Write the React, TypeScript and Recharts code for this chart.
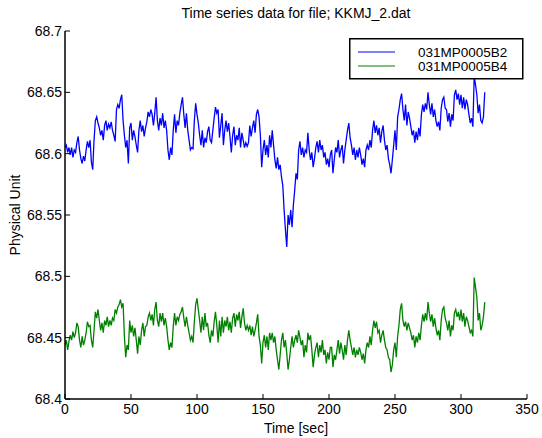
import React from 'react';
import { LineChart, Line, XAxis, YAxis, Legend } from 'recharts';

const FONT = '"Liberation Sans", Arial, Helvetica, sans-serif';
const TITLE = 'Time series data for file; KKMJ_2.dat';
const X_LABEL = 'Time [sec]';
const Y_LABEL = 'Physical Unit';
const SAMPLE_STEP_SEC = 1;
const X_TICKS = [0, 50, 100, 150, 200, 250, 300, 350];
const Y_TICKS = [68.4, 68.45, 68.5, 68.55, 68.6, 68.65, 68.7];
const SERIES_NAMES = ['031MP0005B2', '031MP0005B4'];
const SERIES_COLORS = ['#0000ff', '#008000'];

const B2 = [
  68.605, 68.607, 68.601, 68.605, 68.599, 68.605, 68.597, 68.603, 68.601, 68.609,
  68.614, 68.603, 68.596, 68.592, 68.598, 68.594, 68.603, 68.610, 68.605, 68.611,
  68.593, 68.587, 68.611, 68.627, 68.630, 68.625, 68.621, 68.615, 68.619, 68.611,
  68.623, 68.627, 68.619, 68.624, 68.621, 68.626, 68.619, 68.615, 68.610, 68.636,
  68.640, 68.637, 68.644, 68.648, 68.627, 68.615, 68.605, 68.611, 68.592, 68.621,
  68.625, 68.611, 68.619, 68.614, 68.607, 68.601, 68.619, 68.627, 68.618, 68.623,
  68.614, 68.621, 68.626, 68.634, 68.630, 68.636, 68.632, 68.623, 68.633, 68.646,
  68.627, 68.619, 68.629, 68.623, 68.633, 68.621, 68.627, 68.619, 68.603, 68.595,
  68.605, 68.599, 68.619, 68.632, 68.617, 68.627, 68.623, 68.633, 68.640, 68.646,
  68.632, 68.621, 68.633, 68.619, 68.611, 68.603, 68.605, 68.604, 68.627, 68.641,
  68.632, 68.625, 68.615, 68.607, 68.619, 68.605, 68.613, 68.609, 68.618, 68.622,
  68.611, 68.609, 68.619, 68.629, 68.638, 68.633, 68.636, 68.613, 68.623, 68.633,
  68.607, 68.619, 68.627, 68.618, 68.625, 68.614, 68.601, 68.615, 68.622, 68.607,
  68.615, 68.611, 68.621, 68.605, 68.617, 68.611, 68.605, 68.609, 68.606, 68.609,
  68.623, 68.614, 68.621, 68.627, 68.617, 68.632, 68.636, 68.630, 68.615, 68.589,
  68.603, 68.611, 68.599, 68.607, 68.597, 68.615, 68.605, 68.619, 68.607, 68.595,
  68.588, 68.597, 68.587, 68.591, 68.581, 68.574, 68.554, 68.538, 68.524, 68.550,
  68.542, 68.554, 68.540, 68.558, 68.570, 68.584, 68.579, 68.603, 68.610, 68.599,
  68.605, 68.597, 68.603, 68.601, 68.617, 68.603, 68.595, 68.601, 68.589, 68.596,
  68.605, 68.610, 68.601, 68.611, 68.603, 68.607, 68.597, 68.601, 68.591, 68.596,
  68.589, 68.599, 68.603, 68.584, 68.595, 68.605, 68.601, 68.611, 68.597, 68.603,
  68.607, 68.592, 68.603, 68.611, 68.619, 68.625, 68.613, 68.607, 68.599, 68.605,
  68.595, 68.603, 68.597, 68.605, 68.599, 68.591, 68.596, 68.589, 68.603, 68.607,
  68.603, 68.611, 68.605, 68.619, 68.627, 68.617, 68.623, 68.615, 68.621, 68.609,
  68.618, 68.623, 68.611, 68.603, 68.607, 68.596, 68.591, 68.584, 68.595, 68.607,
  68.619, 68.603, 68.630, 68.636, 68.644, 68.649, 68.636, 68.627, 68.640, 68.623,
  68.634, 68.629, 68.622, 68.615, 68.619, 68.609, 68.618, 68.611, 68.621, 68.614,
  68.632, 68.640, 68.634, 68.641, 68.636, 68.650, 68.640, 68.632, 68.641, 68.630,
  68.636, 68.627, 68.622, 68.626, 68.619, 68.637, 68.644, 68.646, 68.637, 68.636,
  68.626, 68.633, 68.622, 68.632, 68.627, 68.648, 68.652, 68.644, 68.649, 68.640,
  68.648, 68.637, 68.646, 68.636, 68.644, 68.640, 68.632, 68.625, 68.629, 68.622,
  68.663, 68.656, 68.648, 68.633, 68.640, 68.627, 68.625, 68.630, 68.650,
];

const B4 = [
  68.444, 68.448, 68.440, 68.447, 68.452, 68.448, 68.455, 68.450, 68.454, 68.462,
  68.459, 68.448, 68.442, 68.451, 68.444, 68.448, 68.454, 68.463, 68.459, 68.460,
  68.448, 68.442, 68.456, 68.471, 68.466, 68.473, 68.464, 68.456, 68.462, 68.454,
  68.464, 68.460, 68.467, 68.459, 68.464, 68.460, 68.466, 68.464, 68.473, 68.470,
  68.475, 68.477, 68.481, 68.475, 68.478, 68.451, 68.434, 68.444, 68.440, 68.464,
  68.454, 68.460, 68.451, 68.458, 68.448, 68.437, 68.451, 68.444, 68.456, 68.462,
  68.451, 68.459, 68.460, 68.467, 68.470, 68.464, 68.469, 68.460, 68.473, 68.479,
  68.464, 68.459, 68.470, 68.463, 68.470, 68.460, 68.466, 68.459, 68.448, 68.440,
  68.446, 68.442, 68.459, 68.470, 68.460, 68.467, 68.464, 68.469, 68.471, 68.475,
  68.466, 68.459, 68.467, 68.460, 68.454, 68.448, 68.451, 68.446, 68.463, 68.477,
  68.482, 68.473, 68.464, 68.454, 68.467, 68.456, 68.470, 68.459, 68.462, 68.452,
  68.446, 68.456, 68.451, 68.463, 68.471, 68.460, 68.446, 68.464, 68.451, 68.467,
  68.454, 68.464, 68.459, 68.467, 68.456, 68.463, 68.454, 68.466, 68.470, 68.459,
  68.469, 68.464, 68.471, 68.458, 68.467, 68.474, 68.462, 68.456, 68.460, 68.456,
  68.460, 68.452, 68.459, 68.451, 68.456, 68.462, 68.469, 68.451, 68.444, 68.429,
  68.446, 68.452, 68.442, 68.451, 68.440, 68.454, 68.448, 68.454, 68.446, 68.451,
  68.440, 68.432, 68.424, 68.436, 68.448, 68.454, 68.442, 68.448, 68.437, 68.424,
  68.432, 68.442, 68.451, 68.442, 68.448, 68.452, 68.446, 68.456, 68.450, 68.444,
  68.448, 68.434, 68.444, 68.438, 68.454, 68.448, 68.452, 68.440, 68.426, 68.436,
  68.442, 68.446, 68.434, 68.444, 68.438, 68.448, 68.436, 68.440, 68.429, 68.438,
  68.432, 68.442, 68.442, 68.426, 68.436, 68.432, 68.440, 68.448, 68.437, 68.446,
  68.440, 68.432, 68.444, 68.436, 68.448, 68.456, 68.448, 68.442, 68.436, 68.442,
  68.434, 68.440, 68.436, 68.442, 68.438, 68.432, 68.437, 68.429, 68.440, 68.446,
  68.442, 68.451, 68.444, 68.456, 68.464, 68.458, 68.463, 68.454, 68.456, 68.446,
  68.452, 68.456, 68.448, 68.442, 68.440, 68.434, 68.432, 68.422, 68.428, 68.440,
  68.446, 68.434, 68.451, 68.460, 68.473, 68.478, 68.464, 68.459, 68.463, 68.456,
  68.462, 68.458, 68.454, 68.448, 68.452, 68.442, 68.451, 68.446, 68.454, 68.448,
  68.460, 68.469, 68.463, 68.470, 68.464, 68.479, 68.470, 68.463, 68.469, 68.459,
  68.466, 68.458, 68.452, 68.456, 68.448, 68.464, 68.473, 68.475, 68.466, 68.462,
  68.456, 68.464, 68.451, 68.460, 68.456, 68.470, 68.473, 68.467, 68.471, 68.464,
  68.473, 68.463, 68.470, 68.459, 68.467, 68.464, 68.459, 68.454, 68.456, 68.451,
  68.499, 68.491, 68.483, 68.464, 68.470, 68.456, 68.460, 68.467, 68.479,
];

const data = B2.map((v, i) => ({ t: i * SAMPLE_STEP_SEC, b2: v, b4: B4[i] }));

const tickStyle = { fill: '#000', fontSize: 14, fontFamily: FONT };
const axisLine = { stroke: '#000', strokeWidth: 1.5 };
const tickLine = { stroke: '#000', strokeWidth: 1 };

const LegendBox = () => (
  <svg width={175} height={42} style={{ display: 'block' }}>
    <rect x={0.75} y={0.75} width={173} height={40} fill="#fff" stroke="#000" strokeWidth={1.5} />
    {SERIES_NAMES.map((name, i) => (
      <g key={name}>
        <line x1={9} x2={46} y1={14 + i * 14} y2={14 + i * 14} stroke={SERIES_COLORS[i]} strokeWidth={1} />
        <text x={69} y={14 + i * 14} dy="0.35em" fontSize={13.5} fontFamily={FONT} fill="#000">{name}</text>
      </g>
    ))}
  </svg>
);

export default function App() {
  return (
    <div style={{ position: 'absolute', left: 0, top: 0, width: 542, height: 438, background: '#fff', fontFamily: FONT }}>
      <div style={{ position: 'absolute', left: 65, top: 5, width: 462, textAlign: 'center', fontSize: 14, lineHeight: '16px', color: '#000' }}>
        {TITLE}
      </div>
      <LineChart width={542} height={438} data={data} margin={{ top: 31, right: 15, bottom: 0, left: 0 }}>
        <XAxis
          dataKey="t"
          type="number"
          domain={[0, 350]}
          ticks={X_TICKS}
          allowDataOverflow
          height={39}
          tickSize={-5}
          tickMargin={10}
          tick={tickStyle}
          axisLine={axisLine}
          tickLine={tickLine}
          label={{ value: X_LABEL, position: 'insideBottom', offset: 5, fill: '#000', fontSize: 14, fontFamily: FONT }}
        />
        <XAxis
          xAxisId="top"
          orientation="top"
          type="number"
          domain={[0, 350]}
          ticks={X_TICKS}
          allowDataOverflow
          height={0}
          tickSize={-5}
          tick={false}
          axisLine={axisLine}
          tickLine={tickLine}
        />
        <YAxis
          type="number"
          domain={[68.4, 68.7]}
          ticks={Y_TICKS}
          allowDataOverflow
          width={65}
          tickSize={-5}
          tickMargin={8}
          tick={tickStyle}
          tickFormatter={(v: number) => String(v)}
          axisLine={axisLine}
          tickLine={tickLine}
          label={{
            content: (props: any) => {
              const vb = props.viewBox || { x: 0, y: 31, width: 65, height: 368 };
              const cx = vb.x + 15;
              const cy = vb.y + vb.height / 2;
              return (
                <text x={cx} y={cy} transform={`rotate(-90 ${cx} ${cy})`} textAnchor="middle" dy="0.35em" fontSize={14} fontFamily={FONT} fill="#000">
                  {Y_LABEL}
                </text>
              );
            },
          }}
        />
        <YAxis
          yAxisId="right"
          orientation="right"
          type="number"
          domain={[68.4, 68.7]}
          ticks={Y_TICKS}
          allowDataOverflow
          width={0}
          tickSize={-5}
          tick={false}
          axisLine={axisLine}
          tickLine={tickLine}
        />
        <Legend
          layout="vertical"
          align="center"
          verticalAlign="middle"
          wrapperStyle={{ left: 349, top: 38, width: 175, height: 42 }}
          content={() => <LegendBox />}
        />
        <Line type="linear" dataKey="b2" name={SERIES_NAMES[0]} stroke={SERIES_COLORS[0]} strokeWidth={1.3} dot={false} isAnimationActive={false} />
        <Line type="linear" dataKey="b4" name={SERIES_NAMES[1]} stroke={SERIES_COLORS[1]} strokeWidth={1.3} dot={false} isAnimationActive={false} />
      </LineChart>
    </div>
  );
}
